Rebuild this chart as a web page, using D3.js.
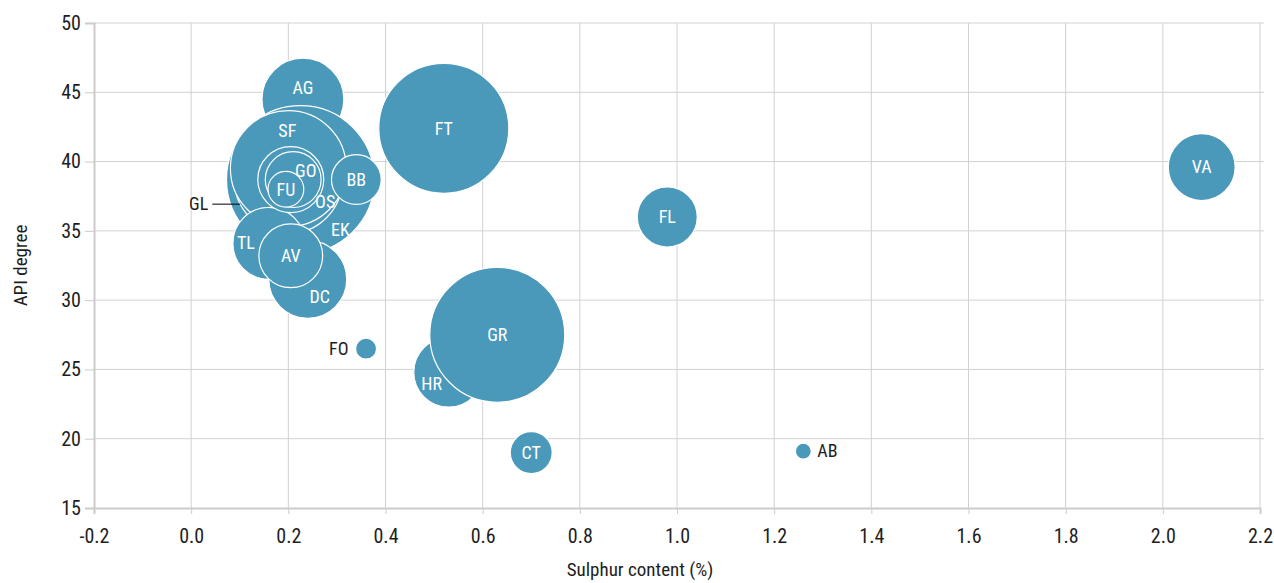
<!DOCTYPE html>
<html>
<head>
<meta charset="utf-8">
<script src="https://cdn.jsdelivr.net/npm/d3@7"></script>
<style>
  html, body { margin: 0; padding: 0; background: #fff; }
  svg { display: block; font-family: 'Roboto Condensed', Roboto, sans-serif; }
</style>
</head>
<body>
<svg id="chart" width="1274" height="583"></svg>
<script>
// ---- data ----
const codes    = ["EK","GR","FT","SF","GL","AG","DC","TL","HR","VA","GO","AV","FL","OS","BB","CT","FU","FO","AB"];
const sulphur  = [0.225, 0.63, 0.52, 0.20, 0.20, 0.23, 0.24, 0.16, 0.53, 2.08, 0.205, 0.205, 0.98, 0.21, 0.34, 0.70, 0.195, 0.36, 1.26];
const api      = [38.7, 27.5, 42.4, 39.5, 38.7, 44.5, 31.5, 34.1, 24.8, 39.6, 38.7, 33.2, 36.0, 38.7, 38.7, 19.0, 38.0, 26.5, 19.1];
const sizes    = [548, 456, 423, 336, 292, 168, 152, 130, 122, 112, 109, 102, 90, 78, 62, 44, 32, 11, 6.4];
const xTicks   = [-0.2, 0.0, 0.2, 0.4, 0.6, 0.8, 1.0, 1.2, 1.4, 1.6, 1.8, 2.0, 2.2];
const yTicks   = [15, 20, 25, 30, 35, 40, 45, 50];

// stacking order of the bubbles, bottom to top
const drawOrder = ["HR","AG","EK","GL","SF","DC","TL","AV","BB","GO","OS","FU","GR","FT","VA","FL","CT","FO","AB"];

// label placement tweaks (pixels, relative to bubble centre)
const labelOffsets = {
  AG: [0, -12], SF: [-1, -38], GO: [15, -9], OS: [32, 22], EK: [40, 50],
  TL: [-23, -1], DC: [12, 17], HR: [-17, 11]
};
const outsideLabels = { FO: "left", AB: "right", GL: "leader" };

// ---- layout ----
const W = 1274, H = 583;
const m = { top: 23, right: 14, bottom: 75, left: 94 };
const svg = d3.select("#chart");

const x = d3.scaleLinear().domain([-0.2, 2.2]).range([m.left, W - m.right]);
const y = d3.scaleLinear().domain([15, 50]).range([H - m.bottom, m.top]);
const r = d3.scaleSqrt().domain([0, 100]).range([0, 31.6]);

const data = codes.map((c, i) => ({ code: c, s: sulphur[i], a: api[i], size: sizes[i] }))
  .sort((p, q) => drawOrder.indexOf(p.code) - drawOrder.indexOf(q.code));

const gridColor = "#d2d2d2";
const textColor = "#1e1e1e";
const fontStack = "'Roboto Condensed', Roboto, sans-serif";
const tickFont = 20, titleFont = 19, labelFont = 18;

// grid
svg.append("g").selectAll("line").data(xTicks.slice(1)).join("line")
  .attr("x1", d => x(d)).attr("x2", d => x(d))
  .attr("y1", m.top).attr("y2", H - m.bottom)
  .attr("stroke", gridColor).attr("stroke-width", 1);
svg.append("g").selectAll("line").data(yTicks.slice(1)).join("line")
  .attr("x1", m.left).attr("x2", W - m.right + 4)
  .attr("y1", d => y(d)).attr("y2", d => y(d))
  .attr("stroke", gridColor).attr("stroke-width", 1);

// axes
const xAxis = d3.axisBottom(x).tickValues(xTicks).tickSize(6).tickPadding(15);
const gx = svg.append("g").attr("transform", `translate(0,${H - m.bottom})`).call(xAxis);
gx.select(".domain").attr("stroke", "#cccccc").attr("stroke-width", 2);
gx.selectAll(".tick line").attr("stroke", "#cccccc");
gx.selectAll(".tick text").attr("fill", textColor).attr("font-size", tickFont)
  .style("font-family", fontStack)
  .text(d => d < 0 ? "-" + Math.abs(d).toFixed(1) : d.toFixed(1));

const yAxis = d3.axisLeft(y).tickValues(yTicks).tickSize(9).tickPadding(4);
const gy = svg.append("g").attr("transform", `translate(${m.left},0)`).call(yAxis);
gy.select(".domain").attr("stroke", "#cccccc").attr("stroke-width", 2);
gy.selectAll(".tick line").attr("stroke", "#cccccc");
gy.selectAll(".tick text").attr("fill", textColor).attr("font-size", tickFont)
  .style("font-family", fontStack);

// axis titles
svg.append("text").attr("x", 640).attr("y", 576).attr("text-anchor", "middle")
  .style("font-family", fontStack)
  .attr("font-size", titleFont).attr("fill", textColor).text("Sulphur content (%)");
svg.append("text").attr("transform", `translate(27,${(m.top + H - m.bottom) / 2}) rotate(-90)`)
  .style("font-family", fontStack)
  .attr("text-anchor", "middle").attr("font-size", titleFont).attr("fill", textColor).text("API degree");

// bubbles
const bubbleColor = "#4a99ba";
svg.append("g").selectAll("circle").data(data).join("circle")
  .attr("cx", d => x(d.s)).attr("cy", d => y(d.a)).attr("r", d => r(d.size))
  .attr("fill", bubbleColor).attr("stroke", "#fff").attr("stroke-width", 1.2);

// labels
const lg = svg.append("g").style("font-family", fontStack);
data.forEach(d => {
  const cx = x(d.s), cy = y(d.a), rr = r(d.size);
  const mode = outsideLabels[d.code];
  if (mode === "left") {
    lg.append("text").attr("x", cx - rr - 7).attr("y", cy).attr("dy", "0.35em")
      .attr("text-anchor", "end").attr("font-size", labelFont).attr("fill", textColor).text(d.code);
  } else if (mode === "right") {
    lg.append("text").attr("x", cx + rr + 6).attr("y", cy).attr("dy", "0.35em")
      .attr("text-anchor", "start").attr("font-size", labelFont).attr("fill", textColor).text(d.code);
  } else if (mode === "leader") {
    const ang = Math.atan2(24, -47);
    const ex = cx + Math.cos(ang) * rr, ey = cy + Math.sin(ang) * rr;
    lg.append("line").attr("x1", ex - 28).attr("x2", ex).attr("y1", ey).attr("y2", ey)
      .attr("stroke", "#000").attr("stroke-width", 1);
    lg.append("text").attr("x", ex - 32).attr("y", ey).attr("dy", "0.35em")
      .attr("text-anchor", "end").attr("font-size", labelFont).attr("fill", textColor).text(d.code);
  } else {
    const off = labelOffsets[d.code] || [0, 0];
    lg.append("text").attr("x", cx + off[0]).attr("y", cy + off[1]).attr("dy", "0.35em")
      .attr("text-anchor", "middle").attr("font-size", labelFont).attr("fill", "#fff").text(d.code);
  }
});
</script>
</body>
</html>
